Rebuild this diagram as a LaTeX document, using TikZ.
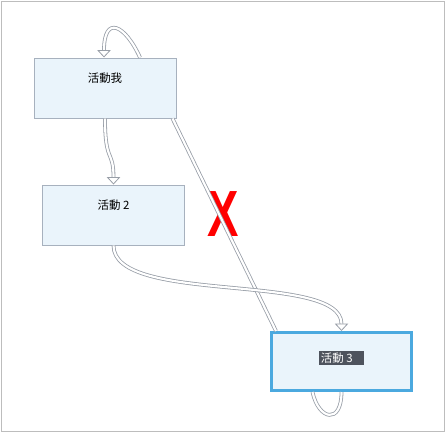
\documentclass[tikz,border=0pt]{standalone}
\usepackage{fontspec}
\setmainfont{Liberation Sans}
\newfontfamily\cjk{Noto Sans CJK TC}
\usetikzlibrary{arrows.meta,calc,positioning}
\definecolor{boxfill}{HTML}{EAF4FB}
\definecolor{boxline}{HTML}{A7B1BE}
\definecolor{selline}{HTML}{4BA9DF}
\definecolor{linkline}{HTML}{989EA7}
\definecolor{selbg}{HTML}{4E535D}
\definecolor{framegray}{HTML}{BDBDBD}
\tikzset{
    activity/.style={rectangle, draw=boxline, fill=boxfill, line width=0.75pt, minimum width=106.5pt, minimum height=45pt, inner sep=0pt, font=\cjk\fontsize{8.6}{10}\selectfont, text height=7pt, text depth=16pt},
    selected/.style={activity, draw=selline, line width=2.25pt, minimum width=105pt, minimum height=43.5pt, text height=5pt, text depth=3.5pt},
    link/.style={draw=linkline, line width=0.6pt, double=white, double distance=1.6pt},
    tip/.style={-{Triangle[width=10pt,length=5.5pt,fill=white]}}
}
\begin{document}
\begin{tikzpicture}[x=0.75pt, y=-0.75pt]
    \useasboundingbox (0,0) rectangle (446,433);
    \draw[framegray, line width=0.75pt] (1.5,1.5) rectangle (444,431.5);

    \node (Activity1) [activity] at (105,88) {活動我\hspace{5pt}};

    \node (Activity2) [activity] at (113.5,215) {活動 2\hspace{12pt}};

    \node (Activity3) [selected] at (341.5,361.5) {\fboxsep=1.2pt\colorbox{selbg}{\color{white}活動 3\hspace{7pt}}};

    \node (Cross) [text=red, inner sep=0pt, font=\bfseries\fontsize{49}{49}\selectfont] at (223,214) {\scalebox{0.72}[1]{X}};

    \draw[link, tip] ($(Activity1.north)+(35,0)$) .. controls +(-15,-33) and +(0,-43) .. ($(Activity1.north)+(-1,0)$);
    \draw[link, tip] (Activity1.south) .. controls +(0,45) and +(0,-35) .. (Activity2.north);
    \draw[link] ($(Activity1.south east)+(-4,0)$) -- ($(Activity3.north west)+(6,0)$);
    \draw[link, tip] (Activity2.south) .. controls +(0,60) and +(0,-60) .. (Activity3.north);
    \draw[link] ($(Activity3.south)+(-29,0)$) .. controls +(6,28) and +(0,33) .. (Activity3.south);
\end{tikzpicture}
\end{document}
